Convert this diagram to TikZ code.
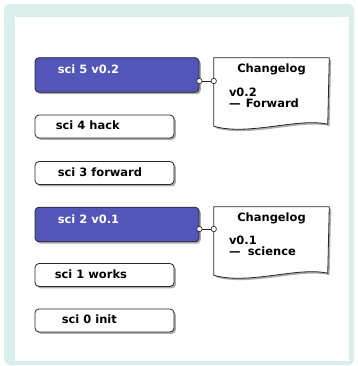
\documentclass[tikz,border=0pt]{standalone}
\usepackage{fontspec}
\setmainfont{DejaVu Sans}
\usetikzlibrary{shadows,calc}
\definecolor{frameteal}{HTML}{DAEEEC}
\definecolor{tagblue}{HTML}{5356B8}

\begin{document}
\begin{tikzpicture}[x=0.75pt,y=-0.75pt,
	font=\fontsize{8.6}{8.3}\selectfont\bfseries,
	shade/.style={drop shadow={shadow xshift=1.4pt,shadow yshift=-1.4pt,fill=black!60,opacity=0.55}},
	commit/.style={draw=black!85,line width=0.6pt,rounded corners=3pt,fill=white,inner sep=0pt,
		minimum width=104.25pt,minimum height=17.25pt,shade},
	tagged/.style={commit,fill=tagblue,minimum width=123pt,minimum height=26pt},
	msg/.style={anchor=base west,inner sep=0pt},
	doc/.style={inner sep=0pt,minimum width=86.25pt,minimum height=51pt},
	docline/.style={draw=black!85,line width=0.6pt,fill=white,shade},
	link/.style={draw=black!85,line width=0.6pt},
	dot/.style={draw=black!85,line width=0.5pt,fill=white}]

	\useasboundingbox (0,0) rectangle (357,366);
	\fill[frameteal,rounded corners=4.5pt] (4,4) rectangle (354,365);
	\fill[white] (15,17) rectangle (349,361);

	% commits
	\node[tagged] (c5) at (117,75) {};
	\node[commit] (c4) at (104.5,126.5) {};
	\node[commit] (c3) at (104.5,173) {};
	\node[tagged] (c2) at (117,224.5) {};
	\node[commit] (c1) at (104.5,275) {};
	\node[commit] (c0) at (104.5,320.5) {};

	\node[msg,text=white] (m5) at ($(c5.west)+(23,-1.5)$) {sci 5 v0.2};
	\node[msg] (m4) at ($(c4.west)+(21,3)$) {sci 4 hack};
	\node[msg] (m3) at ($(c3.west)+(23,3)$) {sci 3 forward};
	\node[msg,text=white] (m2) at ($(c2.west)+(23,-1.5)$) {sci 2 v0.1};
	\node[msg] (m1) at ($(c1.west)+(20,3)$) {sci 1 works};
	\node[msg] (m0) at ($(c0.west)+(27,3)$) {sci 0 init};

	% changelogs
	\node[doc] (d5) at (271.5,92) {};
	\node[doc] (d2) at (271.5,241) {};
	\foreach \d in {d5,d2}{
		\draw[docline] (\d.south west) -- (\d.north west) -- (\d.north east)
			-- ($(\d.south west)+(114,-2)$) .. controls +(-29,-7) and +(35,10) .. (\d.south west) -- cycle;
		\node[anchor=base] (\d h) at ($(\d.north)+(0,15)$) {Changelog};
	}
	\node[msg] (d5v) at ($(d5.north west)+(15,38.5)$) {v0.2};
	\node[msg] (d5n) at ($(d5.north west)+(15,50)$) {—\hspace{4pt}Forward};
	\node[msg] (d2v) at ($(d2.north west)+(15,37.5)$) {v0.1};
	\node[msg] (d2n) at ($(d2.north west)+(15,48.5)$) {—\hspace{5.5pt}science};

	% links
	\draw[link] ([yshift=-4.5pt]c5.east) coordinate (a5) -- (a5 -| d5.west) coordinate (b5);
	\draw[link] ([yshift=-3.4pt]c2.east) coordinate (a2) -- (a2 -| d2.west) coordinate (b2);
	\foreach \p in {a5,b5,a2,b2}
		\draw[dot] (\p) circle (2.7);
\end{tikzpicture}
\end{document}
